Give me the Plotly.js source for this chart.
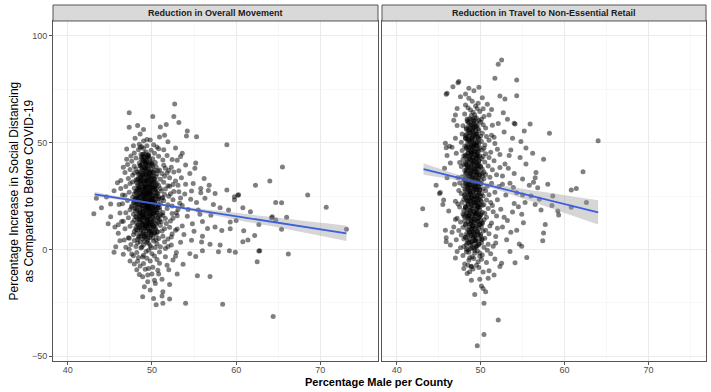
<!DOCTYPE html>
<html>
<head>
<meta charset="utf-8">
<script src="https://cdn.plot.ly/plotly-3.0.1.min.js"></script>
<style>html,body{margin:0;padding:0;background:#fff}#chart{width:711px;height:392px}</style>
</head>
<body>
<div id="chart"></div>
<script>
// ---------- DATA ----------
var panelTitles = ["Reduction in Overall Movement", "Reduction in Travel to Non-Essential Retail"];
var xTitle = "Percentage Male per County";
var yTitle = "Percentage Increase in Social Distancing<br>as Compared to Before COVID-19";

// Panel 1: Reduction in Overall Movement  [percent male, percent increase]
var overallOuter = [[47.3,64.0],[52.7,68.1],[50.1,62.2],[52.6,62.2],[53.2,59.4],[47.3,57.2],[48.3,58.0],[51.0,57.3],[51.7,58.5],[54.2,55.4],[54.1,53.1],[55.3,52.8],[58.9,49.0],[65.5,38.6],[64.0,32.0],[62.3,30.0],[68.5,25.5],[59.8,24.7],[60.3,25.6],[58.9,27.8],[55.2,40.5],[56.2,33.2],[55.1,38.0],[54.5,35.5],[51.9,50.4],[51.5,53.5],[50.9,52.6],[50.6,48.0],[51.4,46.7],[51.8,44.0],[47.0,42.2],[47.5,43.7],[45.9,31.2],[46.3,32.3],[48.6,54.0],[49.4,51.5],[49.0,56.1],[48.0,52.0],[52.8,47.5],[53.6,45.0],[53.0,41.8],[54.0,39.5],[53.4,43.5],[52.3,38.5],[56.8,30.0],[55.8,28.5],[57.5,26.2],[56.3,24.0],[43.1,16.7],[43.4,23.9],[45.1,21.2],[45.1,15.3],[45.7,1.2],[45.5,-1.4],[46.6,-2.3],[47.3,0.1],[46.7,4.4],[47.2,5.5],[48.3,-5.6],[49.0,-6.6],[48.9,-12.8],[49.1,-17.5],[48.9,-22.2],[50.2,-23.0],[51.2,-21.9],[51.3,-25.3],[52.1,-23.3],[52.1,-16.5],[50.3,-14.5],[50.4,-16.0],[50.8,-11.5],[51.3,-19.9],[52.0,-9.5],[53.0,-11.6],[54.0,-25.2],[55.4,-12.4],[56.9,-12.7],[58.4,-25.7],[64.4,-31.4],[66.2,-2.2],[62.7,-0.8],[62.5,-5.8],[59.9,-1.4],[59.2,-0.6],[57.9,-1.1],[56.0,-0.7],[55.2,-3.3],[54.5,-2.0],[53.4,3.3],[54.7,4.3],[56.0,6.2],[56.9,2.4],[58.1,2.1],[61.4,4.4],[62.2,6.5],[60.9,8.7],[59.3,9.6],[58.3,8.8],[57.5,10.5],[65.4,9.4],[62.7,11.7],[66.0,15.0],[64.2,14.8],[64.7,22.0],[65.4,21.8],[70.7,19.7],[73.1,9.4],[60.2,25.4],[59.8,23.3],[60.8,19.5],[61.7,17.6],[59.1,18.4],[59.3,12.8],[60.0,13.5],[57.0,16.0],[56.0,13.0],[58.1,19.5],[57.3,21.0],[56.7,27.6],[55.8,26.5],[55.5,18.5],[54.8,12.0],[55.0,8.5],[53.8,7.0],[54.2,15.5],[53.6,20.5],[54.6,23.5],[55.3,22.0],[53.2,27.0],[54.0,30.5],[53.5,33.5],[52.8,32.0],[44.0,19.5],[44.6,24.5],[45.5,27.5],[45.6,10.5],[46.0,7.5],[46.2,17.0],[46.4,13.0],[44.8,12.0],[46.8,36.0],[46.5,25.5],[47.0,47.0],[47.8,48.5],[48.2,-9.5],[49.6,-9.0],[50.9,-6.5],[51.6,-3.5],[52.5,-5.0],[52.9,-1.5],[53.7,-7.0],[49.8,-19.0],[50.5,-26.0],[47.8,-3.0],[49.5,-12.0],[64.3,15.3],[64.7,13.7],[62.8,-0.6],[60.8,3.6],
[51.6,28.3],[52.2,26.0],[51.8,35.8],[52.6,36.2],[53.1,30.0],[52.4,20.3],[53.4,24.1],[52.9,17.2],[51.7,12.1],[52.5,14.6],[53.6,11.0],[52.3,5.8],[53.0,9.5],[51.9,1.4],[52.8,-3.2],[54.3,18.7],[54.7,27.4],[53.9,25.9],[52.1,29.6],[51.6,38.0],[52.4,42.1],[53.2,36.8],[51.8,-7.5],[50.7,-9.8],[49.5,-15.2],[48.5,-11.8],[47.4,-5.5],[46.9,1.0],[46.2,4.0],[46.1,21.0],[46.3,28.5],[46.6,38.5],[47.1,39.8],[46.0,11.5],[51.2,-14.0],[50.0,-11.5],[54.9,30.8],[55.7,16.5],[56.6,9.8],[55.9,3.5]];

var overallCore = [[48.6,-7.8],[49.4,-4.2],[50.1,-8.4],[49.8,-5.5],[48.9,-3.6],[50.6,-4.8],[47.9,-6.9],[49.2,-9.3],
[48.2,-1.5],[49.0,-2.8],[49.6,-0.4],[50.3,-3.1],[50.9,-1.2],[51.6,0.4],[47.6,-2.2],[49.3,-1.0],[48.7,0.6],[50.0,-2.0],[49.9,0.8],[48.4,-3.8],
[47.5,2.3],[48.1,1.4],[48.6,3.6],[49.0,2.0],[49.4,3.2],[49.8,1.7],[50.2,3.9],[50.6,2.6],[51.0,1.2],[51.5,3.4],[52.3,2.0],[48.8,1.1],[49.6,2.7],[50.4,0.9],[48.3,3.0],[49.1,3.8],
[47.3,5.2],[47.8,6.9],[48.3,4.6],[48.7,7.4],[49.1,5.8],[49.5,4.3],[49.9,6.5],[50.3,7.8],[50.8,5.1],[51.3,6.2],[51.9,4.8],[49.2,7.1],[49.7,5.6],[48.9,4.9],[50.0,7.6],[48.5,6.0],[49.4,6.8],[50.5,4.4],[52.4,7.2],[47.9,4.1],
[46.8,9.6],[47.4,10.8],[47.9,8.4],[48.3,11.5],[48.7,9.1],[49.0,10.4],[49.3,8.7],[49.6,11.8],[49.9,9.4],[50.2,10.9],[50.6,8.2],[51.0,11.2],[51.5,9.7],[52.1,10.4],[52.8,8.9],[48.5,10.0],[49.4,9.9],[50.0,11.3],[48.1,9.3],[49.8,8.5],[50.4,9.6],[48.9,11.9],[49.2,11.0],[51.2,8.6],
[46.6,13.2],[47.2,14.8],[47.7,12.6],[48.1,15.4],[48.5,13.9],[48.8,12.3],[49.1,14.6],[49.4,13.0],[49.7,15.7],[50.0,12.8],[50.3,14.2],[50.7,15.1],[51.1,12.9],[51.6,14.5],[52.2,13.3],[53.0,15.8],[48.9,15.0],[49.5,14.1],[50.1,15.5],[49.2,12.5],[48.3,14.3],[49.9,13.6],[50.5,12.2],[48.6,15.8],[49.6,12.1],[51.3,15.9],[47.9,13.7],[50.9,13.8],
[46.9,17.1],[47.4,18.6],[47.8,16.4],[48.2,19.3],[48.5,17.5],[48.8,16.2],[49.0,18.8],[49.3,17.0],[49.5,19.6],[49.8,16.6],[50.0,18.1],[50.3,19.8],[50.6,16.9],[50.9,18.4],[51.3,17.3],[51.8,19.1],[52.4,16.8],[53.1,18.7],[48.6,19.9],[49.2,16.1],[49.7,18.3],[50.2,17.2],[48.0,17.8],[49.4,19.0],[50.5,18.9],[48.9,17.7],[49.9,19.3],[51.1,16.3],[47.6,19.7],[50.7,19.5],
[46.5,21.4],[47.1,22.9],[47.6,20.3],[48.0,23.4],[48.3,21.1],[48.6,22.6],[48.9,20.4],[49.1,23.8],[49.3,21.9],[49.5,20.6],[49.7,23.1],[49.9,21.3],[50.1,22.5],[50.4,20.2],[50.7,23.6],[51.0,21.7],[51.4,22.8],[51.9,20.9],[52.5,23.3],[53.3,21.6],[48.4,23.9],[48.8,21.8],[49.2,22.3],[49.6,21.0],[50.0,23.9],[50.3,22.1],[47.8,21.9],[49.4,20.1],[50.8,20.8],[48.1,20.7],[49.8,22.7],[51.2,23.9],
[46.8,25.3],[47.3,26.8],[47.7,24.4],[48.1,27.2],[48.4,25.0],[48.7,26.5],[49.0,24.2],[49.2,27.7],[49.5,25.6],[49.7,24.8],[49.9,27.0],[50.2,25.2],[50.5,26.9],[50.8,24.5],[51.1,27.4],[51.5,25.8],[52.0,24.9],[52.6,27.1],[48.5,27.9],[48.9,25.4],[49.3,26.2],[49.6,27.5],[50.0,24.1],[50.4,27.9],[47.9,25.9],[49.1,25.9],[50.7,26.0],[48.2,24.6],[49.8,26.4],[51.3,24.3],
[46.9,29.4],[47.4,30.9],[47.9,28.6],[48.2,31.3],[48.5,29.1],[48.8,30.6],[49.0,28.3],[49.3,31.8],[49.5,29.7],[49.8,28.9],[50.0,31.1],[50.3,29.3],[50.6,30.8],[51.0,28.5],[51.4,31.5],[51.9,29.8],[52.5,30.4],[48.6,31.9],[49.1,30.0],[49.4,28.1],[49.7,30.4],[50.1,28.7],[48.3,28.2],[49.9,31.7],[50.8,29.9],[47.7,31.6],[49.2,29.2],[50.4,31.8],
[47.2,33.2],[47.7,34.7],[48.1,32.4],[48.4,35.3],[48.7,33.6],[49.0,32.2],[49.2,35.7],[49.5,33.9],[49.7,32.6],[50.0,34.5],[50.3,33.1],[50.6,35.4],[51.0,32.8],[51.5,34.2],[52.1,33.5],[48.9,34.8],[49.4,32.1],[49.8,35.9],[50.2,32.4],[48.6,32.9],[49.1,33.8],[50.5,34.0],[47.9,35.8],[51.2,35.6],
[47.4,37.4],[47.9,38.9],[48.3,36.3],[48.6,39.2],[48.9,37.0],[49.1,38.5],[49.4,36.6],[49.6,39.6],[49.9,37.8],[50.2,36.2],[50.5,38.7],[50.9,37.2],[51.4,39.4],[52.0,36.9],[48.8,39.8],[49.3,37.9],[49.7,36.4],[50.1,39.1],[48.1,37.6],[50.7,36.8],
[47.6,41.3],[48.1,42.8],[48.5,40.5],[48.8,43.4],[49.0,41.6],[49.3,40.2],[49.5,43.0],[49.8,41.1],[50.1,42.5],[50.4,40.7],[50.8,43.6],[51.3,41.9],[48.9,42.0],[49.6,43.9],[49.2,40.9],[50.0,40.3],
[47.9,45.2],[48.4,46.7],[48.7,44.5],[49.0,47.3],[49.3,45.6],[49.6,44.3],[49.9,46.4],[50.3,45.0],[50.8,47.1],[49.1,44.8],[48.6,47.9],
[48.5,49.3],[49.0,50.8],[49.4,48.6],[49.8,51.2],[50.2,49.0],[48.8,48.1]];

// densest part of the panel-1 cloud
var overallDense = [[48.4,5.6],[48.9,7.3],[49.3,6.1],[49.7,7.8],[50.1,5.3],[50.5,6.7],[48.7,6.4],[49.5,5.1],[49.9,7.0],[48.2,7.6],[49.1,5.9],[50.3,7.5],
[48.3,9.1],[48.6,10.6],[49.0,8.3],[49.2,10.1],[49.5,9.4],[49.8,10.8],[50.0,8.7],[50.4,9.9],[50.7,8.2],[48.8,9.7],[49.4,10.9],[49.7,8.6],[48.1,10.3],[50.2,10.5],
[48.2,12.4],[48.5,13.7],[48.8,11.5],[49.0,13.2],[49.3,12.0],[49.5,13.9],[49.7,11.3],[49.9,12.7],[50.2,13.4],[50.5,11.8],[50.8,12.9],[48.7,13.0],[49.2,11.1],[49.6,12.3],[50.0,11.6],[48.4,11.2],
[48.1,15.3],[48.4,16.6],[48.7,14.4],[48.9,16.1],[49.1,14.9],[49.3,16.8],[49.5,15.2],[49.7,14.1],[49.9,16.4],[50.1,15.0],[50.4,16.2],[50.7,14.6],[48.6,15.6],[49.0,15.4],[49.4,14.3],[49.8,15.9],[50.2,16.9],[50.9,15.7],
[48.2,18.5],[48.5,17.3],[48.8,19.4],[49.0,17.9],[49.2,19.8],[49.4,18.2],[49.6,17.1],[49.8,19.1],[50.0,17.6],[50.3,18.8],[50.6,17.4],[50.9,19.6],[48.6,18.1],[48.9,17.0],[49.3,18.9],[49.7,18.4],[50.1,19.5],[48.0,19.2],[49.5,19.9],[50.4,17.9],
[48.1,21.5],[48.4,22.7],[48.7,20.6],[48.9,22.1],[49.1,20.9],[49.3,22.9],[49.5,21.4],[49.7,20.3],[49.9,22.4],[50.1,21.1],[50.4,22.6],[50.7,20.8],[48.5,21.0],[48.8,22.9],[49.2,21.7],[49.6,22.0],[50.0,20.4],[50.3,21.9],[47.9,22.2],[49.4,20.2],
[48.2,24.1],[48.5,25.6],[48.8,23.3],[49.0,24.8],[49.2,23.6],[49.4,25.3],[49.6,24.4],[49.8,23.2],[50.0,25.7],[50.2,24.0],[50.5,25.1],[50.8,23.7],[48.6,24.5],[48.9,25.9],[49.3,24.7],[49.7,25.8],[50.1,23.5],[50.4,24.9],[48.0,23.8],[49.5,23.1],
[48.3,27.4],[48.6,26.2],[48.8,28.3],[49.0,26.8],[49.2,28.7],[49.4,27.1],[49.6,26.4],[49.8,28.1],[50.0,26.6],[50.3,27.8],[50.6,26.3],[48.5,28.6],[48.9,27.5],[49.3,26.0],[49.7,27.3],[50.1,28.9],[50.5,28.4],[48.1,26.7],
[48.3,30.2],[48.6,31.5],[48.9,29.4],[49.1,31.1],[49.3,29.9],[49.5,31.8],[49.7,30.5],[49.9,29.2],[50.2,31.3],[50.5,30.0],[48.7,30.7],[49.2,29.1],[49.6,29.6],[50.0,30.9],[48.4,29.5],[50.3,29.3],
[48.4,33.4],[48.7,32.3],[48.9,34.5],[49.1,33.0],[49.3,34.8],[49.5,32.6],[49.7,33.9],[50.0,32.9],[50.2,34.3],[48.6,34.1],[49.2,32.1],[49.6,34.4],[49.9,33.5],[48.2,32.7],
[48.5,36.1],[48.8,37.4],[49.0,35.5],[49.2,36.8],[49.4,35.2],[49.6,37.7],[49.8,36.3],[50.1,35.8],[48.7,35.3],[49.3,37.9],[49.7,35.6],[50.3,37.1],
[48.6,39.2],[48.9,40.5],[49.1,38.4],[49.3,39.8],[49.5,38.9],[49.8,40.3],[48.8,38.2],[49.4,40.9],[50.0,39.5],[49.2,41.0],
[48.7,42.3],[49.0,43.6],[49.3,41.8],[49.5,44.1],[49.1,42.9],[48.9,44.6],[49.7,42.6],[49.4,43.3]];

// Panel 2: Reduction in Travel to Non-Essential Retail
var retailOuter = [[52.5,88.7],[52.1,86.7],[51.7,80.2],[54.3,79.4],[54.3,72.0],[47.3,78.1],[46.7,76.2],[45.9,72.7],[48.6,75.5],[49.2,74.3],[48.2,72.8],[49.8,76.0],[47.6,71.5],[52.9,70.5],[52.3,71.8],[55.9,58.7],[55.2,55.5],[54.1,58.7],[58.2,54.4],[64.0,50.9],[62.2,36.4],[57.5,42.2],[56.6,36.0],[54.7,43.0],[53.6,46.5],[53.4,44.0],[46.3,48.3],[45.9,47.6],[46.6,47.8],[45.7,38.0],[45.2,26.7],[60.8,27.8],[61.4,28.5],[43.1,19.0],[43.5,11.4],[45.1,26.2],[45.9,5.4],[46.6,8.0],[48.7,-10.5],[48.5,-7.5],[49.3,-21.1],[50.1,-17.2],[50.3,-18.3],[50.6,-19.9],[50.4,-25.3],[52.1,-33.1],[50.4,-39.9],[49.6,-45.2],[51.6,-12.0],[52.5,-6.5],[54.1,-6.3],[55.5,-3.8],[54.9,1.5],[54.6,2.5],[57.4,4.0],[57.5,7.7],[57.7,11.7],[59.3,16.1],[59.2,18.0],[58.5,20.5],[57.2,18.5],[60.8,19.7],[62.6,22.0],[58.0,30.5],[56.3,31.5],[55.8,30.0],[54.9,16.4],[55.1,12.5],[54.3,9.0],[53.1,4.5],[53.5,-1.0],[52.3,-8.0],[51.0,-10.0],[47.2,-1.0],[46.4,2.0],[47.0,14.0],[46.2,18.0],[45.5,21.0],[44.7,30.0],[46.0,33.5],[46.4,40.5],[46.0,44.0],[47.0,52.0],[47.2,58.0],[47.0,63.0],[52.7,64.0],[53.2,61.0],[52.8,55.0],[53.8,52.0],[54.8,50.5],[55.4,47.5],[56.2,45.0],[53.3,38.0],[54.0,35.5],[55.4,40.0],[55.0,33.0],[56.0,25.0],[55.3,22.0],[54.3,26.5],[57.0,23.5],[58.6,25.0],[56.5,21.0],[54.0,21.5],[53.2,13.5],[52.6,10.5],[53.8,17.5],[54.0,59.1],[56.8,28.9],[56.5,33.6],[46.0,73.1],[47.4,78.6],[45.8,49.7],[45.6,23.1],[45.8,9.0],[45.9,3.6],
[51.4,20.5],[51.9,35.0],[52.3,44.5],[51.6,52.5],[52.1,59.0],[51.3,65.5],[50.8,68.0],[47.2,66.0],[46.8,60.5],[47.1,45.0],[46.9,30.5],[47.0,22.5],[46.8,10.5],[47.1,4.5],[47.0,-4.0],[48.0,-9.0],[51.8,3.0],[52.8,15.0],[53.0,25.5],[52.6,30.5],[53.5,31.0],[52.9,40.0],[51.7,-4.5],[50.9,-13.5],[49.9,-14.0],[48.9,-14.5],[53.6,8.0],[54.5,20.0],[53.9,29.0],[55.0,25.5]];

var retailCore = [[49.1,-9.2],[48.4,-11.3],[49.8,-8.5],[50.3,-10.6],[48.9,-8.1],
[48.6,-5.1],[49.5,-7.4],[50.1,-4.6],[48.1,-6.8],[49.2,-4.3],[50.7,-6.2],[48.9,-7.9],[49.7,-5.8],
[48.3,-1.2],[49.0,-3.5],[49.6,-0.7],[50.2,-2.6],[48.7,-3.9],[49.3,-1.8],[50.8,-0.4],[47.9,-2.9],[49.9,-3.2],[48.5,-0.2],[51.2,-2.1],
[48.0,1.3],[48.6,3.2],[49.2,0.5],[49.8,2.6],[50.4,1.0],[48.3,2.2],[49.0,3.7],[49.5,1.7],[50.1,3.1],[47.6,0.8],[50.9,2.4],[48.8,0.3],[49.4,3.9],[51.5,1.5],
[48.2,5.6],[48.9,7.1],[49.4,4.5],[50.0,6.4],[48.5,4.2],[49.1,5.9],[49.7,7.6],[50.5,5.2],[47.7,6.7],[48.7,7.9],[49.3,6.1],[50.2,4.8],[51.0,7.3],[49.9,5.0],[48.0,4.9],[51.8,6.0],
[48.4,9.3],[49.0,11.2],[49.6,8.4],[50.1,10.5],[48.7,8.1],[49.3,9.8],[49.8,11.7],[50.6,9.0],[47.9,10.4],[48.2,11.8],[48.9,9.6],[49.5,10.9],[50.3,8.6],[51.1,11.0],[47.4,8.8],[50.0,11.9],[49.2,8.3],[52.0,9.9],
[48.1,13.4],[48.6,15.3],[49.1,12.6],[49.7,14.4],[50.2,12.1],[48.4,14.9],[48.9,13.1],[49.4,15.8],[50.0,13.7],[50.7,15.0],[47.6,12.8],[49.2,14.2],[49.9,15.4],[48.0,15.9],[50.4,13.9],[51.3,12.4],[48.8,12.2],[49.6,13.3],[47.2,14.6],[51.9,15.6],
[48.3,17.2],[48.9,19.1],[49.4,16.4],[49.9,18.5],[50.5,16.9],[48.0,18.3],[48.6,16.1],[49.2,17.8],[49.7,19.6],[50.2,17.4],[47.5,19.9],[48.8,18.0],[49.5,17.1],[50.9,19.2],[48.2,19.7],[49.0,16.7],[50.0,16.3],[51.5,17.6],[47.9,16.6],[52.4,18.8],
[48.5,21.3],[49.1,23.2],[49.6,20.5],[50.1,22.4],[48.2,20.2],[48.8,22.8],[49.3,21.7],[49.8,23.7],[50.4,20.9],[47.8,22.0],[48.6,23.9],[49.0,20.8],[49.5,22.2],[50.7,23.1],[48.0,23.5],[49.9,21.1],[51.2,21.9],[48.4,22.5],[49.7,20.1],[47.3,21.2],[52.0,23.3],
[48.1,25.4],[48.7,27.3],[49.2,24.6],[49.8,26.5],[50.3,25.0],[48.4,26.8],[48.9,24.2],[49.4,27.8],[50.0,24.9],[47.7,26.2],[48.6,25.7],[49.1,26.9],[49.6,25.3],[50.6,27.5],[48.2,24.3],[49.9,27.9],[51.0,25.6],[48.8,26.1],[49.5,24.0],[47.4,27.6],[51.7,26.8],
[48.4,29.2],[49.0,31.4],[49.5,28.7],[50.0,30.6],[48.1,28.3],[48.7,30.1],[49.2,29.5],[49.7,31.8],[50.3,28.4],[47.9,29.9],[48.5,31.6],[48.9,28.9],[49.4,30.4],[50.8,29.6],[48.2,30.9],[49.8,29.0],[51.3,31.0],[48.6,28.1],[49.6,31.2],[47.5,31.1],[52.2,29.4],
[48.2,33.3],[48.8,35.2],[49.3,32.5],[49.9,34.7],[50.4,33.1],[48.5,34.3],[49.0,32.9],[49.6,35.7],[50.1,32.2],[47.8,34.0],[48.3,35.8],[49.1,33.7],[49.7,33.4],[50.6,35.1],[48.0,32.4],[49.4,34.9],[51.1,33.8],[48.7,32.1],[50.2,35.5],[47.3,33.6],[52.6,34.4],
[48.3,37.1],[48.9,39.3],[49.4,36.4],[50.0,38.5],[48.1,36.9],[48.6,38.2],[49.2,37.6],[49.8,39.8],[50.4,36.2],[47.7,38.8],[48.4,39.6],[49.0,36.7],[49.6,37.9],[50.9,39.1],[48.8,36.1],[49.5,39.0],[51.4,37.3],[48.0,39.9],[50.2,37.7],[52.3,38.4],
[48.4,41.2],[49.0,43.3],[49.5,40.6],[50.1,42.4],[48.2,40.1],[48.7,42.9],[49.2,41.6],[49.7,43.8],[50.5,40.9],[47.9,42.1],[48.5,43.6],[49.1,40.3],[49.8,41.4],[51.0,43.0],[48.0,43.9],[49.4,42.6],[51.6,41.5],[48.9,41.9],[50.3,43.5],[47.5,40.7],
[48.5,45.3],[49.1,47.2],[49.6,44.5],[50.2,46.6],[48.2,44.2],[48.8,46.0],[49.3,45.7],[49.9,47.7],[50.6,44.8],[47.8,46.3],[48.6,47.6],[49.0,44.9],[49.7,46.2],[51.2,45.5],[48.3,47.9],[49.5,44.1],[52.0,46.9],[48.9,45.0],[50.4,47.4],
[48.4,49.2],[49.0,51.3],[49.5,48.6],[50.1,50.5],[48.1,48.3],[48.7,50.9],[49.2,49.7],[49.8,51.8],[50.5,48.9],[47.7,50.2],[48.5,51.6],[49.1,48.1],[49.6,50.1],[51.0,51.1],[48.2,51.9],[49.4,49.0],[51.7,49.6],[48.9,48.7],
[48.5,53.1],[49.1,55.3],[49.6,52.5],[50.2,54.4],[48.2,52.2],[48.8,54.8],[49.3,53.6],[49.8,55.7],[50.7,52.9],[47.8,54.0],[48.6,55.9],[49.0,52.4],[49.5,54.2],[51.3,53.5],[48.3,53.8],[50.0,53.0],
[48.6,57.2],[49.2,59.1],[49.7,56.5],[50.3,58.4],[48.3,56.3],[48.9,58.7],[49.4,57.6],[50.0,59.6],[47.9,57.9],[48.5,59.5],[49.1,56.8],[50.6,56.9],[51.4,58.2],[49.6,58.0],
[48.7,61.2],[49.3,63.1],[49.8,60.4],[50.4,62.3],[48.4,60.2],[48.9,62.7],[49.5,61.6],[48.1,63.4],[50.1,61.0],[49.1,60.7],[51.0,62.9],
[48.8,65.3],[49.4,67.2],[49.9,64.6],[48.5,66.4],[49.1,64.2],[50.3,65.9],[48.2,67.6],[49.6,66.0],
[49.0,69.4],[48.6,70.8],[49.7,68.5],[50.2,71.0]];

// densest part of the panel-2 column
var retailDense = [[48.6,-1.3],[49.0,0.8],[49.3,-0.5],[49.6,1.6],[48.8,1.9],[49.9,-1.7],[48.3,0.2],[49.4,1.2],
[48.4,3.1],[48.7,4.9],[49.0,2.6],[49.2,5.4],[49.5,3.8],[49.8,2.3],[50.1,4.4],[48.9,3.5],[49.3,4.1],[48.2,5.7],
[48.3,7.2],[48.6,8.9],[48.8,6.4],[49.0,9.5],[49.2,7.7],[49.4,6.2],[49.6,8.4],[49.8,9.8],[50.0,7.0],[48.5,6.8],[49.1,8.1],[49.7,6.7],
[48.2,11.4],[48.5,12.9],[48.7,10.6],[48.9,13.5],[49.1,11.1],[49.3,12.3],[49.5,10.2],[49.7,13.1],[49.9,11.7],[50.2,12.6],[48.6,11.9],[49.0,10.4],[49.4,13.8],
[48.1,15.2],[48.4,16.8],[48.6,14.5],[48.8,17.3],[49.0,15.8],[49.2,14.2],[49.4,16.4],[49.6,17.7],[49.8,15.0],[50.0,16.1],[48.5,15.6],[48.9,14.8],[49.3,17.1],[49.7,16.6],
[48.2,19.5],[48.5,20.9],[48.7,18.3],[48.9,21.4],[49.1,19.2],[49.3,20.4],[49.5,18.6],[49.7,21.7],[49.9,19.9],[50.2,20.7],[48.4,18.9],[48.8,20.1],[49.2,21.9],[49.6,19.6],
[48.3,23.3],[48.6,24.8],[48.8,22.4],[49.0,25.5],[49.2,23.7],[49.4,22.1],[49.6,24.3],[49.8,25.8],[50.0,23.0],[48.5,22.7],[48.9,24.0],[49.3,25.1],[49.7,23.2],[48.1,25.6],
[48.2,27.6],[48.5,28.8],[48.7,26.3],[48.9,29.4],[49.1,27.1],[49.3,28.3],[49.5,26.6],[49.7,29.7],[49.9,27.9],[50.1,26.2],[48.4,29.9],[48.8,27.4],[49.2,29.2],[49.6,28.0],
[48.3,31.2],[48.6,32.9],[48.8,30.5],[49.0,33.4],[49.2,31.6],[49.4,30.1],[49.6,32.3],[49.8,33.8],[50.0,30.9],[48.5,30.3],[48.9,32.0],[49.3,33.1],[49.7,31.0],[48.1,32.6],
[48.2,35.4],[48.5,36.7],[48.7,34.3],[48.9,37.2],[49.1,35.0],[49.3,36.3],[49.5,34.6],[49.7,37.6],[49.9,35.8],[50.2,34.2],[48.4,37.9],[48.8,35.6],[49.2,37.8],[49.6,36.0],
[48.3,39.3],[48.6,40.8],[48.8,38.4],[49.0,41.5],[49.2,39.7],[49.4,38.1],[49.6,40.2],[49.8,41.8],[50.0,39.0],[48.5,38.7],[48.9,40.0],[49.3,41.2],[49.7,39.4],
[48.2,43.5],[48.5,44.9],[48.7,42.3],[48.9,45.4],[49.1,43.1],[49.3,44.4],[49.5,42.6],[49.7,45.7],[49.9,43.9],[48.4,42.1],[48.8,44.1],[49.2,45.9],[49.6,43.4],
[48.3,47.2],[48.6,48.8],[48.8,46.4],[49.0,49.5],[49.2,47.7],[49.4,46.1],[49.6,48.3],[49.8,49.8],[48.5,46.8],[48.9,48.0],[49.3,49.2],[49.7,47.0],
[48.4,51.3],[48.7,52.9],[48.9,50.5],[49.1,53.4],[49.3,51.7],[49.5,50.2],[49.7,52.3],[48.6,50.8],[49.0,52.1],[49.4,53.8],[48.2,53.2],
[48.5,55.4],[48.8,56.8],[49.0,54.3],[49.2,57.3],[49.4,55.7],[49.6,54.1],[48.7,54.8],[49.1,56.0],[49.5,57.6],[48.3,57.0],
[48.6,59.3],[48.9,60.8],[49.1,58.4],[49.3,61.5],[49.5,59.7],[48.8,58.2],[49.2,60.1],[48.4,61.1]];

// Linear fits with 95% confidence band
var overallFitX  = [43.2, 50, 55, 60, 65, 73.1];
var overallFitY  = [25.8, 21.7, 18.6, 15.5, 12.5, 7.5];
var overallFitLo = [24.7, 21.3, 17.8, 13.9, 10.2, 3.9];
var overallFitHi = [26.9, 22.1, 19.4, 17.1, 14.8, 11.1];

var retailFitX  = [43.2, 50, 55, 60, 64.0];
var retailFitY  = [37.6, 31.0, 26.1, 21.2, 17.3];
var retailFitLo = [34.9, 30.1, 23.8, 17.0, 11.6];
var retailFitHi = [40.3, 31.9, 28.4, 25.4, 23.0];

// ---------- BUILD ----------
var FONT = "'Liberation Sans', Arial, sans-serif";
var ptStyle = {color: 'rgba(0,0,0,0.5)', size: 5, line: {width: 0}};

function col(arr, i) { return arr.map(function (p) { return p[i]; }); }

function panelTraces(groups, fx, fy, flo, fhi, xa, ya) {
  var pts = [].concat.apply([], groups);
  return [
    {type: 'scatter', mode: 'markers', x: col(pts, 0), y: col(pts, 1), xaxis: xa, yaxis: ya,
     marker: ptStyle, hoverinfo: 'skip', showlegend: false},
    {type: 'scatter', mode: 'lines', x: fx, y: flo, xaxis: xa, yaxis: ya, line: {width: 0, shape: 'spline'},
     hoverinfo: 'skip', showlegend: false},
    {type: 'scatter', mode: 'lines', x: fx, y: fhi, xaxis: xa, yaxis: ya, line: {width: 0, shape: 'spline'},
     fill: 'tonexty', fillcolor: 'rgba(153,153,153,0.4)', hoverinfo: 'skip', showlegend: false},
    {type: 'scatter', mode: 'lines', x: fx, y: fy, xaxis: xa, yaxis: ya,
     line: {color: '#3a5fe0', width: 1.8}, hoverinfo: 'skip', showlegend: false}
  ];
}

var data = panelTraces([overallOuter, overallCore, overallDense], overallFitX, overallFitY, overallFitLo, overallFitHi, 'x', 'y')
  .concat(panelTraces([retailOuter, retailCore, retailDense], retailFitX, retailFitY, retailFitLo, retailFitHi, 'x2', 'y2'));

var yTop = 0.9551;
function xAxis(dom, anchor) {
  return {
    domain: dom, range: [38.25, 76.85], tickmode: 'linear', tick0: 0, dtick: 10,
    showgrid: true, gridcolor: '#ebebeb', gridwidth: 1,
    minor: {tickmode: 'linear', tick0: 0, dtick: 5, showgrid: true, gridcolor: '#f3f3f3', gridwidth: 0.6, ticks: ''},
    zeroline: false, showline: true, mirror: true, linecolor: '#555', linewidth: 1,
    ticks: 'outside', ticklen: 3, tickcolor: '#555', tickwidth: 1, ticklabelstandoff: -3,
    tickfont: {family: FONT, size: 9, color: '#4d4d4d'}, anchor: anchor
  };
}
function yAxis(showLabels, anchor) {
  return {
    domain: [0, yTop], range: [-52.3, 107], tickmode: 'linear', tick0: 0, dtick: 50,
    showgrid: true, gridcolor: '#ebebeb', gridwidth: 1,
    minor: {tickmode: 'linear', tick0: 0, dtick: 25, showgrid: true, gridcolor: '#f3f3f3', gridwidth: 0.6, ticks: ''},
    zeroline: false, showline: true, mirror: true, linecolor: '#555', linewidth: 1,
    ticks: showLabels ? 'outside' : '', ticklen: 3, tickcolor: '#555', tickwidth: 1,
    showticklabels: showLabels, anchor: anchor,
    tickfont: {family: FONT, size: 9, color: '#4d4d4d'}
  };
}

var layout = {
  width: 711, height: 392,
  margin: {l: 53, r: 5, t: 5, b: 31},
  paper_bgcolor: '#fff', plot_bgcolor: '#fff',
  xaxis: xAxis([0, 0.4977], 'y'),
  xaxis2: xAxis([0.5038, 1], 'y2'),
  yaxis: yAxis(true, 'x'),
  yaxis2: yAxis(false, 'x2'),
  shapes: [
    {type: 'rect', xref: 'x domain', yref: 'paper', x0: 0, x1: 1, y0: yTop, y1: 1,
     fillcolor: '#d9d9d9', line: {color: '#555', width: 1}, layer: 'above'},
    {type: 'rect', xref: 'x2 domain', yref: 'paper', x0: 0, x1: 1, y0: yTop, y1: 1,
     fillcolor: '#d9d9d9', line: {color: '#555', width: 1}, layer: 'above'}
  ],
  annotations: [
    {text: '<b>' + panelTitles[0] + '</b>', xref: 'x domain', yref: 'paper', x: 0.5, y: (yTop + 1) / 2,
     xanchor: 'center', yanchor: 'middle', showarrow: false, font: {family: FONT, size: 9, color: '#1a1a1a'}},
    {text: '<b>' + panelTitles[1] + '</b>', xref: 'x2 domain', yref: 'paper', x: 0.5, y: (yTop + 1) / 2,
     xanchor: 'center', yanchor: 'middle', showarrow: false, font: {family: FONT, size: 9, color: '#1a1a1a'}},
    {text: '<b>' + xTitle + '</b>', xref: 'paper', yref: 'paper', x: 0.5, y: -0.059,
     xanchor: 'center', yanchor: 'middle', showarrow: false, font: {family: FONT, size: 11, color: '#000'}},
    {text: yTitle, xref: 'paper', yref: 'paper', x: -0.0482, y: 0.4775, textangle: -90,
     xanchor: 'center', yanchor: 'middle', showarrow: false, font: {family: FONT, size: 12, color: '#000'}}
  ]
};

Plotly.newPlot('chart', data, layout, {staticPlot: true, displayModeBar: false});
</script>
</body>
</html>
